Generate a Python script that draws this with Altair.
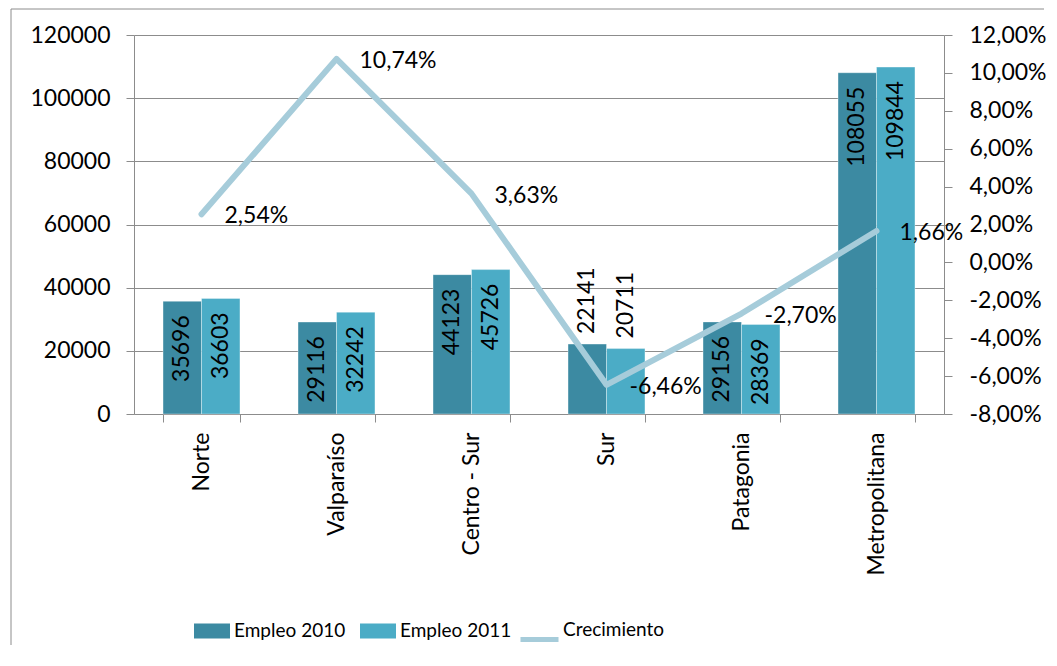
import altair as alt
import pandas as pd

# ---- data ----
regiones = ["Norte", "Valparaíso", "Centro - Sur", "Sur", "Patagonia", "Metropolitana"]
series = ["Empleo 2010", "Empleo 2011"]
empleo_2010 = [35696, 29116, 44123, 22141, 29156, 108055]
empleo_2011 = [36603, 32242, 45726, 20711, 28369, 109844]
crecimiento = [0.0254, 0.1074, 0.0363, -0.0646, -0.0270, 0.0166]
nombre_linea = "Crecimiento"
ticks_izq = [0, 20000, 40000, 60000, 80000, 100000, 120000]
ticks_der = [-0.08, -0.06, -0.04, -0.02, 0.0, 0.02, 0.04, 0.06, 0.08, 0.10, 0.12]

# ---- styles ----
FONT = "Lato"
colores_barras = ["#3C8AA2", "#4BACC6"]
color_linea = "#A6CCDA"
GRIS = "#8C8C8C"

bars_df = pd.DataFrame({
    "region": regiones * 2,
    "serie": [series[0]] * len(regiones) + [series[1]] * len(regiones),
    "valor": empleo_2010 + empleo_2011,
})
growth_df = pd.DataFrame({"region": regiones, "crec": crecimiento, "nombre": nombre_linea})

x_enc = alt.X(
    "region:N", sort=regiones, title=None,
    scale=alt.Scale(paddingInner=0.43, paddingOuter=0.215),
    axis=alt.Axis(labelAngle=270, labelAlign="right", labelBaseline="middle",
                  tickBand="extent", tickSize=8, labelPadding=10,
                  domainColor=GRIS, tickColor=GRIS, labelColor="black",
                  labelFont=FONT, labelFontSize=23, grid=False),
)
xoff = alt.XOffset("serie:N", sort=series, scale=alt.Scale(paddingInner=0, paddingOuter=0))

y_bar = alt.Y(
    "valor:Q", title=None,
    scale=alt.Scale(domain=[0, 120000], nice=False),
    axis=alt.Axis(orient="left", values=ticks_izq, format="d", grid=True,
                  gridColor=GRIS, domainColor=GRIS, tickColor=GRIS, tickSize=8,
                  labelPadding=16, labelFont=FONT, labelFontSize=23, labelColor="black",
                  labelOverlap=False),
)

bars = alt.Chart(bars_df).mark_bar(stroke="white", strokeWidth=0.6, strokeOpacity=0.6).encode(
    x=x_enc, xOffset=xoff, y=y_bar,
    fill=alt.Fill("serie:N", sort=series,
                  scale=alt.Scale(domain=series, range=colores_barras),
                  legend=alt.Legend(orient="none", legendX=60, legendY=578, direction="horizontal",
                                    title=None, symbolType="M-1,-0.42H1V0.42H-1Z", symbolSize=1296,
                                    symbolStrokeWidth=0, symbolOpacity=1, labelFont=FONT,
                                    labelFontSize=19, labelColor="black", labelOffset=4,
                                    columnPadding=14)),
)

lab_in = alt.Chart(bars_df).transform_filter("datum.valor > 25000").mark_text(
    angle=270, align="right", baseline="middle", dx=-14, font=FONT, fontSize=23, color="black"
).encode(x=x_enc, xOffset=xoff, y=y_bar, text=alt.Text("valor:Q", format="d"))

lab_out = alt.Chart(bars_df).transform_filter("datum.valor <= 25000").mark_text(
    angle=270, align="left", baseline="middle", dx=10, font=FONT, fontSize=23, color="black"
).encode(x=x_enc, xOffset=xoff, y=y_bar, text=alt.Text("valor:Q", format="d"))

bar_layer = alt.layer(bars, lab_in, lab_out)

pct_expr = "replace(replace(format(datum.value, '.2%'), '.', ','), '\u2212', '-')"
y_line = alt.Y(
    "crec:Q", title=None,
    scale=alt.Scale(domain=[-0.08, 0.12], nice=False),
    axis=alt.Axis(orient="right", values=ticks_der, labelExpr=pct_expr, grid=False,
                  domainColor=GRIS, tickColor=GRIS, tickSize=8, labelPadding=17,
                  labelFont=FONT, labelFontSize=23, labelColor="black",
                  labelOverlap=False, labelSeparation=0),
)

line = alt.Chart(growth_df).mark_line(strokeWidth=6, strokeJoin="round", strokeCap="round").encode(
    x=x_enc, y=y_line,
    stroke=alt.Stroke("nombre:N", scale=alt.Scale(domain=[nombre_linea], range=[color_linea]),
                      legend=alt.Legend(orient="none", legendX=384, legendY=583, title=None,
                                        symbolType="stroke", symbolSize=1444, symbolStrokeWidth=5,
                                        labelFont=FONT, labelFontSize=19, labelColor="black",
                                        labelOffset=2, labelBaseline="bottom")),
)

line_lab = alt.Chart(growth_df).transform_calculate(
    etiqueta="replace(replace(format(datum.crec, '.2%'), '.', ','), '\u2212', '-')"
).mark_text(align="left", baseline="middle", dx=23, dy=2, font=FONT, fontSize=23, color="black").encode(
    x=x_enc, y=y_line, text="etiqueta:N",
)

line_layer = alt.layer(line, line_lab)

frame_data = alt.Data(values=[{"k": 1}])
frame_top = alt.Chart(frame_data).mark_rule(color=GRIS, strokeWidth=1).encode(
    x=alt.value(-123), x2=alt.value(910), y=alt.value(-26))
frame_left = alt.Chart(frame_data).mark_rule(color=GRIS, strokeWidth=1).encode(
    x=alt.value(-123), y=alt.value(-26), y2=alt.value(610))

chart = alt.layer(bar_layer, line_layer, frame_top, frame_left).resolve_scale(
    y="independent"
).properties(
    width=810, height=379,
    padding={"left": 2, "top": 0, "right": 2, "bottom": 2},
    background="white",
).configure_view(stroke=None).configure_axis(labelOverlap=False)

chart.save("out.html", embed_options={"renderer": "svg", "actions": False})
